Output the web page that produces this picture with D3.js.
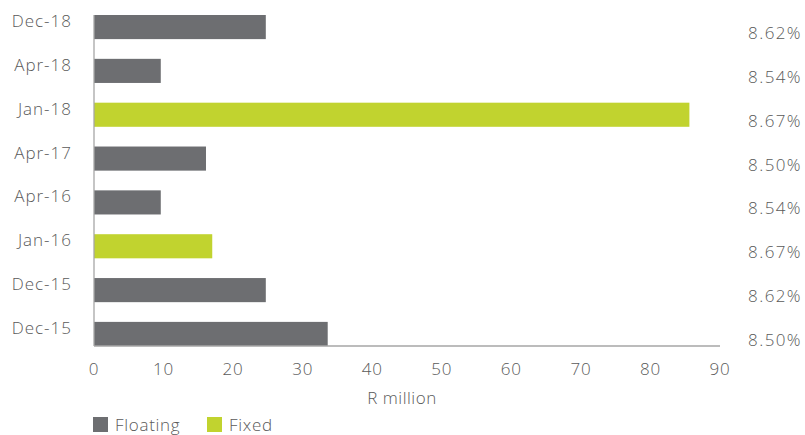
<!DOCTYPE html>
<html>
<head>
<meta charset="utf-8">
<script src="https://cdn.jsdelivr.net/npm/d3@7"></script>
<style>
  body { margin: 0; background: #fff; }
  text { font-family: "Open Sans", sans-serif; fill: #5a5a5a; font-size: 17px; font-weight: 300; }
</style>
</head>
<body>
<div id="Chart"></div>
<script>
// data, top to bottom
var dates = ["Dec-18", "Apr-18", "Jan-18", "Apr-17", "Apr-16", "Jan-16", "Dec-15", "Dec-15 "];
var amounts = [24.7, 9.6, 85.6, 16.1, 9.6, 17, 24.7, 33.6];
var rateType = ["Floating", "Floating", "Fixed", "Floating", "Floating", "Fixed", "Floating", "Floating"];
var rates = ["8.62%", "8.54%", "8.67%", "8.50%", "8.54%", "8.67%", "8.62%", "8.50%"];
var xTicks = [0, 10, 20, 30, 40, 50, 60, 70, 80, 90];
var legendKeys = ["Floating", "Fixed"];

var color = d3.scaleOrdinal().domain(legendKeys).range(["#6d6e71", "#c1d32f"]);

var width = 805, height = 435;
var svg = d3.select("#Chart")
            .append("svg")
            .attr("class", "chart")
            .attr("width", width)
            .attr("height", height);

var x = d3.scaleLinear().domain([0, 90]).range([94, 720]);
var y = d3.scaleBand()
          .domain(d3.range(dates.length))
          .range([15, 346])
          .paddingInner(0.45)
          .paddingOuter(0);

// bars
svg.selectAll("rect.bar")
   .data(amounts)
   .enter()
   .append("rect")
   .attr("class", "bar")
   .attr("x", x(0))
   .attr("y", (d, i) => y(i))
   .attr("width", d => x(d) - x(0))
   .attr("height", y.bandwidth())
   .style("fill", (d, i) => color(rateType[i]));

// axes lines
svg.append("line")
   .attr("x1", x(0)).attr("x2", x(0))
   .attr("y1", 15).attr("y2", 346)
   .style("stroke", "#a6a6a6").style("stroke-width", 1.3);
svg.append("line")
   .attr("x1", x(0)).attr("x2", x(90))
   .attr("y1", 346).attr("y2", 346)
   .style("stroke", "#a6a6a6").style("stroke-width", 1.3);

// category labels (left)
svg.selectAll("text.cat")
   .data(dates)
   .enter()
   .append("text")
   .attr("class", "cat")
   .attr("x", 72)
   .attr("y", (d, i) => y(i) + y.bandwidth() / 2 - 6)
   .attr("dy", "0.35em")
   .style("text-anchor", "end")
   .style("letter-spacing", "1px")
   .text(d => d.trim());

// rate labels (right)
svg.selectAll("text.rate")
   .data(rates)
   .enter()
   .append("text")
   .attr("class", "rate")
   .attr("x", 802)
   .attr("y", (d, i) => y(i) + y.bandwidth() / 2 + 6)
   .attr("dy", "0.35em")
   .style("text-anchor", "end")
   .style("letter-spacing", "1.4px")
   .text(d => d);

// x tick labels
svg.selectAll("text.tick")
   .data(xTicks)
   .enter()
   .append("text")
   .attr("class", "tick")
   .attr("x", d => x(d))
   .attr("y", 369)
   .attr("dy", "0.35em")
   .style("text-anchor", "middle")
   .style("letter-spacing", "0.8px")
   .text(d => d);

svg.append("text")
   .attr("x", 402)
   .attr("y", 398)
   .attr("dy", "0.35em")
   .style("text-anchor", "middle")
   .style("letter-spacing", "0.5px")
   .text("R million");

// legend
var legendX = [93, 207];
svg.selectAll("rect.legend")
   .data(legendKeys)
   .enter()
   .append("rect")
   .attr("class", "legend")
   .attr("x", (d, i) => legendX[i])
   .attr("y", 417)
   .attr("width", 15)
   .attr("height", 15)
   .style("fill", d => color(d));
svg.selectAll("text.legend_label")
   .data(legendKeys)
   .enter()
   .append("text")
   .attr("class", "legend_label")
   .attr("x", (d, i) => legendX[i] + 22)
   .attr("y", 425)
   .attr("dy", "0.35em")
   .style("letter-spacing", "0.7px")
   .text(d => d);
</script>
</body>
</html>
